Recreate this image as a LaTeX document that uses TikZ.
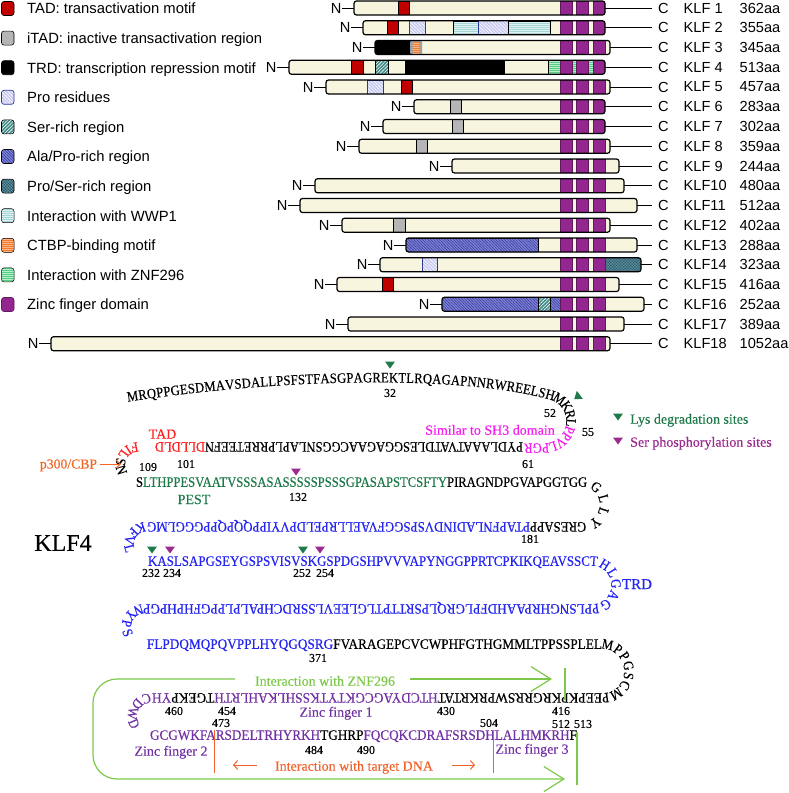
\documentclass[tikz,border=0pt]{standalone}
\usepackage{fontspec}
\setmainfont{Liberation Serif}
\newfontfamily\sansf{Liberation Sans}
\newfontfamily\seqf[FakeStretch=0.88,FakeBold=0.35]{Liberation Serif}
\newfontfamily\numf[FakeBold=0.3]{Liberation Serif}
\usepackage{graphicx}
\usetikzlibrary{patterns.meta,decorations.text,arrows.meta}
\definecolor{cream}{HTML}{F7F5DE}
\definecolor{zfp}{HTML}{93278F}
\definecolor{zfdark}{HTML}{5E1A5B}
\definecolor{tadr}{HTML}{C00000}
\definecolor{itadg}{HTML}{B5B5B5}
\definecolor{probg}{HTML}{C8CAF0}
\definecolor{problue}{HTML}{2E3A9A}
\definecolor{serbg}{HTML}{3F8A86}
\definecolor{alabg}{HTML}{7C80D8}
\definecolor{alaln}{HTML}{34388F}
\definecolor{psbg}{HTML}{2B5766}
\definecolor{psln}{HTML}{5F92A0}
\definecolor{wwbg}{HTML}{DDF1F1}
\definecolor{wwln}{HTML}{A6D5D8}
\definecolor{ctbg}{HTML}{F47A2E}
\definecolor{ctln}{HTML}{FAB68A}
\definecolor{znbg}{HTML}{55CF86}
\definecolor{znln}{HTML}{B8EFCB}
\definecolor{sqblue}{HTML}{2424F0}
\definecolor{sqgreen}{HTML}{1E7A48}
\definecolor{sqred}{HTML}{FF2020}
\definecolor{sqmag}{HTML}{F81CF0}
\definecolor{sqpurple}{HTML}{7232A4}
\definecolor{serph}{HTML}{9A2A8E}
\definecolor{lgreen}{HTML}{7DC84A}
\definecolor{dnaor}{HTML}{F2622E}
\definecolor{p300or}{HTML}{F26522}
\newcommand\seqsz{\seqf\fontsize{14.4pt}{16pt}\selectfont}
\newcommand\rowbox[2]{\resizebox{#1pt}{9.5pt}{\seqsz #2}}
\newcommand\feat[3]{\path[#1] (#2,\yy-7) rectangle (#3,\yy+7);}
\newcommand\zfs{\path[zfbox] (560,\yy-7) rectangle (572,\yy+7);\path[zfbox] (576.5,\yy-7) rectangle (588.5,\yy+7);\path[zfbox] (593.5,\yy-7) rectangle (605,\yy+7);}
\newcommand\klf[7]{%
  \def\yy{#2}%
  \node[sans,anchor=east] (n#1) at (#3-12,#2) {N};
  \coordinate (bw#1) at (#3,#2);
  \coordinate (be#1) at (#4,#2);
  \coordinate (ce#1) at (652,#2);
  \begin{scope}
    \clip[rounded corners=2.5pt] (#3,#2-7) rectangle (#4,#2+7);
    \fill[cream] (#3,#2-7) rectangle (#4,#2+7);
    #7
    \zfs
  \end{scope}
  \draw[barline] (#3,#2-7) rectangle (#4,#2+7);
  \draw[stem] (n#1.east) -- (bw#1);
  \draw[stem] (be#1) -- (ce#1);
  \node[sans,anchor=west] (c#1) at (657.5,#2) {C};
  \node[sans,anchor=west] (k#1) at (683,#2) {#5};
  \node[sans,anchor=west] (a#1) at (739,#2) {#6};
}
% left turn letters: cx, cy, r, first angle, step, colour, letters, name prefix
\newcommand\lturn[8]{\foreach \ch [count=\i] in {#7} {\pgfmathsetmacro\turnang{#4-(\i-1)*#5}\node[seqch,text=#6,rotate={90-\turnang}] (#8\i) at ({#1+#3*cos(\turnang)},{#2+#3*sin(\turnang)}) {\ch};}}
\newcommand\legicon[2]{\path[#1,rounded corners=2.5pt] (1.5,#2-7) rectangle (14,#2+7);}
\newcommand\tridn[3]{\fill[#1] ({#2-5},{#3-3.5}) -- ({#2+5},{#3-3.5}) -- (#2,{#3+3.5}) -- cycle;}
\tikzset{
  sans/.style={font=\sansf\fontsize{14.6pt}{17pt}\selectfont, inner sep=0.5pt},
  leg/.style={font=\sansf\fontsize{14.8pt}{17pt}\selectfont, inner sep=0pt, anchor=base west},
  barline/.style={draw=black, line width=1.2pt, rounded corners=2.5pt},
  stem/.style={draw=black, line width=0.9pt},
  tad/.style={fill=tadr, draw=black, line width=.6pt},
  itad/.style={fill=itadg, draw=black, line width=.6pt},
  trd/.style={fill=black, draw=black, line width=.6pt},
  pro/.style={preaction={fill=probg}, pattern={Lines[angle=-45,distance=2.4pt,line width=.6pt]}, pattern color=white, draw=problue, line width=.7pt},
  ser/.style={preaction={fill=serbg}, pattern={Lines[angle=45,distance=2.4pt,line width=.6pt]}, pattern color=white, draw=black, line width=.6pt},
  alapro/.style={preaction={fill=alabg}, pattern={Lines[angle=-45,distance=2pt,line width=.5pt]}, pattern color=alaln, draw=black, line width=.6pt},
  proser/.style={preaction={fill=psbg}, pattern={Hatch[angle=45,distance=2pt,line width=.5pt]}, pattern color=psln, draw=black, line width=.6pt},
  wwp/.style={preaction={fill=wwbg}, pattern={Lines[angle=0,distance=2pt,line width=.5pt]}, pattern color=wwln, draw=black, line width=.5pt},
  ctbp/.style={preaction={fill=ctbg}, pattern={Lines[angle=0,distance=2pt,line width=.5pt]}, pattern color=ctln, draw=black, line width=.5pt},
  znf/.style={preaction={fill=znbg}, pattern={Lines[angle=0,distance=2pt,line width=.5pt]}, pattern color=znln, draw=black, line width=.5pt},
  zfbox/.style={fill=zfp, draw=zfdark, line width=.6pt},
  seqdeco/.style={decorate, decoration={text along path, text align=fit to path, raise=-4.75pt, text={#1}}},
  seqch/.style={font=\seqsz, inner sep=0pt, anchor=center},
  rowt/.style={inner sep=0pt, anchor=base},
  num/.style={font=\numf\fontsize{12pt}{14pt}\selectfont, inner sep=0pt},
  lab/.style={font=\numf\fontsize{14pt}{16pt}\selectfont, inner sep=0pt, anchor=base},
  labw/.style={font=\numf\fontsize{14pt}{16pt}\selectfont, inner sep=0pt, anchor=base west},
  grn/.style={draw=lgreen, line width=1.2pt},
  gtip/.style={-{Straight Barb[length=20pt,width=25pt]}},
  otip/.style={draw=dnaor, line width=1pt, -{Straight Barb[length=4pt,width=9pt]}},
}
\begin{document}
\begin{tikzpicture}[x=1pt,y=-1pt]
\useasboundingbox (0,0) rectangle (789,793);
% ---------- legend
\legicon{tad}{8.5}    \node[leg] (lg1) at (27,13.8) {TAD: transactivation motif};
\legicon{itad}{38.1}  \node[leg] (lg2) at (27,43.4) {iTAD: inactive transactivation region};
\legicon{trd}{67.7}   \node[leg] (lg3) at (27,73.0) {TRD: transcription repression motif};
\legicon{pro}{97.3}   \node[leg] (lg4) at (27,102.6) {Pro residues};
\legicon{ser}{126.9}  \node[leg] (lg5) at (27,132.2) {Ser-rich region};
\legicon{alapro}{156.5} \node[leg] (lg6) at (27,161.8) {Ala/Pro-rich region};
\legicon{proser}{186.1} \node[leg] (lg7) at (27,191.4) {Pro/Ser-rich region};
\legicon{wwp}{215.7}  \node[leg] (lg8) at (27,221.0) {Interaction with WWP1};
\legicon{ctbp}{245.3} \node[leg] (lg9) at (27,250.6) {CTBP-binding motif};
\legicon{znf}{274.9}  \node[leg] (lg10) at (27,280.2) {Interaction with ZNF296};
\legicon{zfbox}{304.5} \node[leg] (lg11) at (27,309.8) {Zinc finger domain};
% ---------- KLF bars
\klf{1}{8}{354}{605}{KLF 1}{362aa}{\feat{tad}{398}{409}}
\klf{2}{27.75}{363}{605}{KLF 2}{355aa}{\feat{tad}{387}{398}\feat{pro}{409}{425}\feat{wwp}{453}{478}\feat{pro}{478}{508}\feat{wwp}{508}{550}}
\klf{3}{47.5}{375}{610}{KLF 3}{345aa}{\feat{trd}{370}{410}\path[fill=gray!75,rounded corners=1.5pt] (410,\yy-7) rectangle (422,\yy+7);\path[ctbp,draw=none] (412.5,\yy-5.5) rectangle (419.5,\yy+5.5);}
\klf{4}{67.25}{289}{605}{KLF 4}{513aa}{\feat{tad}{351}{363}\feat{ser}{375}{388}\feat{trd}{405}{504}\feat{znf}{548}{605}}
\klf{5}{87}{326}{610}{KLF 5}{457aa}{\feat{pro}{367}{383}\feat{tad}{401}{412}}
\klf{6}{106.75}{414}{605}{KLF 6}{283aa}{\feat{itad}{450}{461}}
\klf{7}{126.5}{383}{605}{KLF 7}{302aa}{\feat{itad}{452}{463}}
\klf{8}{146.25}{359}{610}{KLF 8}{359aa}{\feat{itad}{416}{427}}
\klf{9}{166}{452}{619}{KLF 9}{244aa}{}
\klf{10}{185.75}{315}{624}{KLF10}{480aa}{}
\klf{11}{205.5}{300}{637}{KLF11}{512aa}{}
\klf{12}{225.25}{342}{610}{KLF12}{402aa}{\feat{itad}{393}{405}}
\klf{13}{245}{406}{637}{KLF13}{288aa}{\feat{alapro}{400}{538}}
\klf{14}{264.75}{380}{641}{KLF14}{323aa}{\feat{pro}{422}{437}\feat{proser}{605}{646}}
\klf{15}{284.5}{337}{619}{KLF15}{416aa}{\feat{tad}{382}{393}}
\klf{16}{304.25}{442}{644}{KLF16}{252aa}{\feat{alapro}{436}{538}\feat{ser}{538}{550}\feat{alapro}{550}{560}}
\klf{17}{324}{348}{624}{KLF17}{389aa}{}
\klf{18}{343.75}{51}{610}{KLF18}{1052aa}{}
% ---------- KLF4 sequence
\path[seqdeco={|\seqsz|MRQPPGESDMAVSDALLPSFSTFASGPAGREKTLRQAGAPNNRWREELSHMKRL|\seqsz\color{sqmag}|PPVLPGR}]
  (127,397) .. controls (300,371) and (470,372) .. (551,395) arc[start angle=-75,end angle=90,radius=27] -- (524,448.3);
\node[rowt,rotate=180] (r2) at (339,442.25) {\rowbox{368}{PYDLAAATVATDLESGGAGAACGGSNLAPLPRRETEEFN\textcolor{sqred}{DLLDLD}}};
\lturn{138}{464.5}{17.5}{259}{22}{sqred}{F,I,L}{ta}
\lturn{138}{464.5}{17.5}{189}{27}{black}{S,N}{tb}
\node[rowt] (r3) at (357,486.75) {\rowbox{442}{S\textcolor{sqgreen}{LTHPPESVAATVSSSASASSSSSPSSSGPASAPSTCSFTY}PIRAGNDPGVAPGGTG}};
\path[seqdeco={|\seqsz|GGLLYG}] (578,482) -- (582,482) arc[start angle=-90,end angle=90,radius=22.5] -- (577,527);
\node[rowt,rotate=180] (r4) at (362,522.25) {\rowbox{430}{RESAPP\textcolor{sqblue}{PTAPFNLADINDVSPSGGFVAELLRPELDPVYIPPQQPQPPGGGLMG}}};
\lturn{146}{544}{17}{252}{29}{sqblue}{K,F,V,L}{tc}
\node[rowt] (r5) at (369,565.75) {\rowbox{442}{\textcolor{sqblue}{KASLSAPGSEYGSPSVISVSKGSPDGSHPVVVAPYNGGPPRTCPKIKQEAVSSC}}};
\path[seqdeco={|\seqsz\color{sqblue}|THLGAGP}] (590,561) -- (592,561) arc[start angle=-90,end angle=90,radius=24];
\node[rowt,rotate=180] (r6) at (367.5,604.25) {\rowbox{449}{\textcolor{sqblue}{PLSNGHRPAAHDFPLGRQLPSRTTPTLGLEEVLSSRDCHPALPLPPGFHPHPGP}}};
\lturn{144}{626.5}{17.5}{252}{31}{sqblue}{N,Y,P,S}{td}
\node[rowt] (r7) at (374.5,648.75) {\rowbox{455}{\textcolor{sqblue}{FLPDQMQPQVPPLHYQGQSRG}FVARAGEPCVCWPHFGTHGMMLTPPSSPLEL}};
\path[seqdeco={|\seqsz|MPPGSCMP}] (602,644) arc[start angle=-90,end angle=90,radius=27];
\node[rowt,rotate=180] (r8) at (377,693.25) {\rowbox{450}{EEPKPKRGRRSWPRKRTAT\textcolor{sqpurple}{HTCDYAGCGKTYTKSSHLKAHLRTH}TGEKP\textcolor{sqpurple}{YH}}};
\lturn{151}{716.5}{18.5}{256}{33}{sqpurple}{C,D,W,D}{te}
\node[rowt] (r9) at (363.5,739.75) {\rowbox{427}{\textcolor{sqpurple}{GCGWKFARSDELTRHYRKH}TGHRP\textcolor{sqpurple}{FQCQKCDRAFSRSDHLALHMKRH}F}};
% ---------- markers
\tridn{sqgreen}{390}{365}
\fill[sqgreen] (574.2,399.1) -- (582.8,398.9) -- (576.8,390.9) -- cycle;
\tridn{serph}{296}{472}
\tridn{sqgreen}{152}{550}
\tridn{serph}{170}{550}
\tridn{sqgreen}{303}{550}
\tridn{serph}{320}{550}
\tridn{sqgreen}{618}{417}
\tridn{serph}{618}{441}
% ---------- numbers
\foreach \t/\x/\y [count=\i] in {32/390/393, 52/550/413, 55/588/432, 61/528/464, 109/148/467, 101/186/464, 132/298/497, 181/530/539, 232/151/573, 234/172/573, 252/302/573, 254/325/573, 371/318/658, 460/174/711, 454/227/711, 430/446/711, 416/561/711, 473/221/723, 504/489/723, 512/561/724, 513/583/724, 484/314/750, 490/366/750}
  \node[num] (nb\i) at (\x,\y) {\t};
% ---------- labels
\node[lab,text=sqred] (tadl) at (162.5,438.7) {TAD};
\node[lab,text=p300or,font=\numf\fontsize{13.7pt}{16pt}\selectfont] (p300) at (68.5,468.5) {p300/CBP};
\coordinate (p300a) at (100,464);
\coordinate (p300b) at (121,464);
\draw[draw=p300or, line width=1pt, -{Straight Barb[length=4pt,width=8pt]}] (p300a) -- (p300b);
\node[lab,text=sqgreen] (pest) at (194,504) {PEST};
\node[lab,text=sqmag] (sh3) at (490,434.7) {Similar to SH3 domain};
\node[labw,text=sqgreen] (lys) at (630,423.7) {Lys degradation sites};
\node[labw,text=serph] (serl) at (630,446.7) {Ser phosphorylation sites};
\node[lab,font=\numf\fontsize{24pt}{28pt}\selectfont] (klf4) at (63,550.9) {KLF4};
\node[lab,text=sqblue,font=\numf\fontsize{15pt}{17pt}\selectfont] (trd) at (637,589) {TRD};
\node[lab,text=lgreen] (znfl) at (325,685.7) {Interaction with ZNF296};
\node[lab,text=sqpurple] (zf1) at (336,716.7) {Zinc finger 1};
\node[lab,text=sqpurple] (zf2) at (171,755.7) {Zinc finger 2};
\node[lab,text=sqpurple] (zf3) at (532,753.7) {Zinc finger 3};
\node[lab,text=dnaor] (dna) at (354,770.7) {Interaction with target DNA};
% ---------- DNA interaction marks
\coordinate (o1t) at (214,730); \coordinate (o1b) at (214,773);
\coordinate (o2t) at (493,730); \coordinate (o2b) at (493,773);
\draw[draw=dnaor, line width=1pt] (o1t) -- (o1b);
\draw[draw=dnaor, line width=1pt] (o2t) -- (o2b);
\coordinate (la1) at (257,765); \coordinate (la2) at (233,765);
\coordinate (ra1) at (452,765); \coordinate (ra2) at (475,765);
\draw[otip] (la1) -- (la2);
\draw[otip] (ra1) -- (ra2);
% ---------- ZNF296 bracket
\coordinate (g1) at (235,679); \coordinate (g2) at (93,679); \coordinate (g3) at (93,779); \coordinate (g4) at (565,779);
\draw[grn,gtip,rounded corners=24pt] (g1) -- (g2) -- (g3) -- (g4);
\coordinate (g5) at (410,679); \coordinate (g6) at (552,679);
\draw[grn,gtip] (g5) -- (g6);
\coordinate (v1t) at (565,668); \coordinate (v1b) at (565,700);
\coordinate (v2t) at (577,732); \coordinate (v2b) at (577,785);
\draw[grn] (v1t) -- (v1b);
\draw[grn] (v2t) -- (v2b);
\end{tikzpicture}
\end{document}
